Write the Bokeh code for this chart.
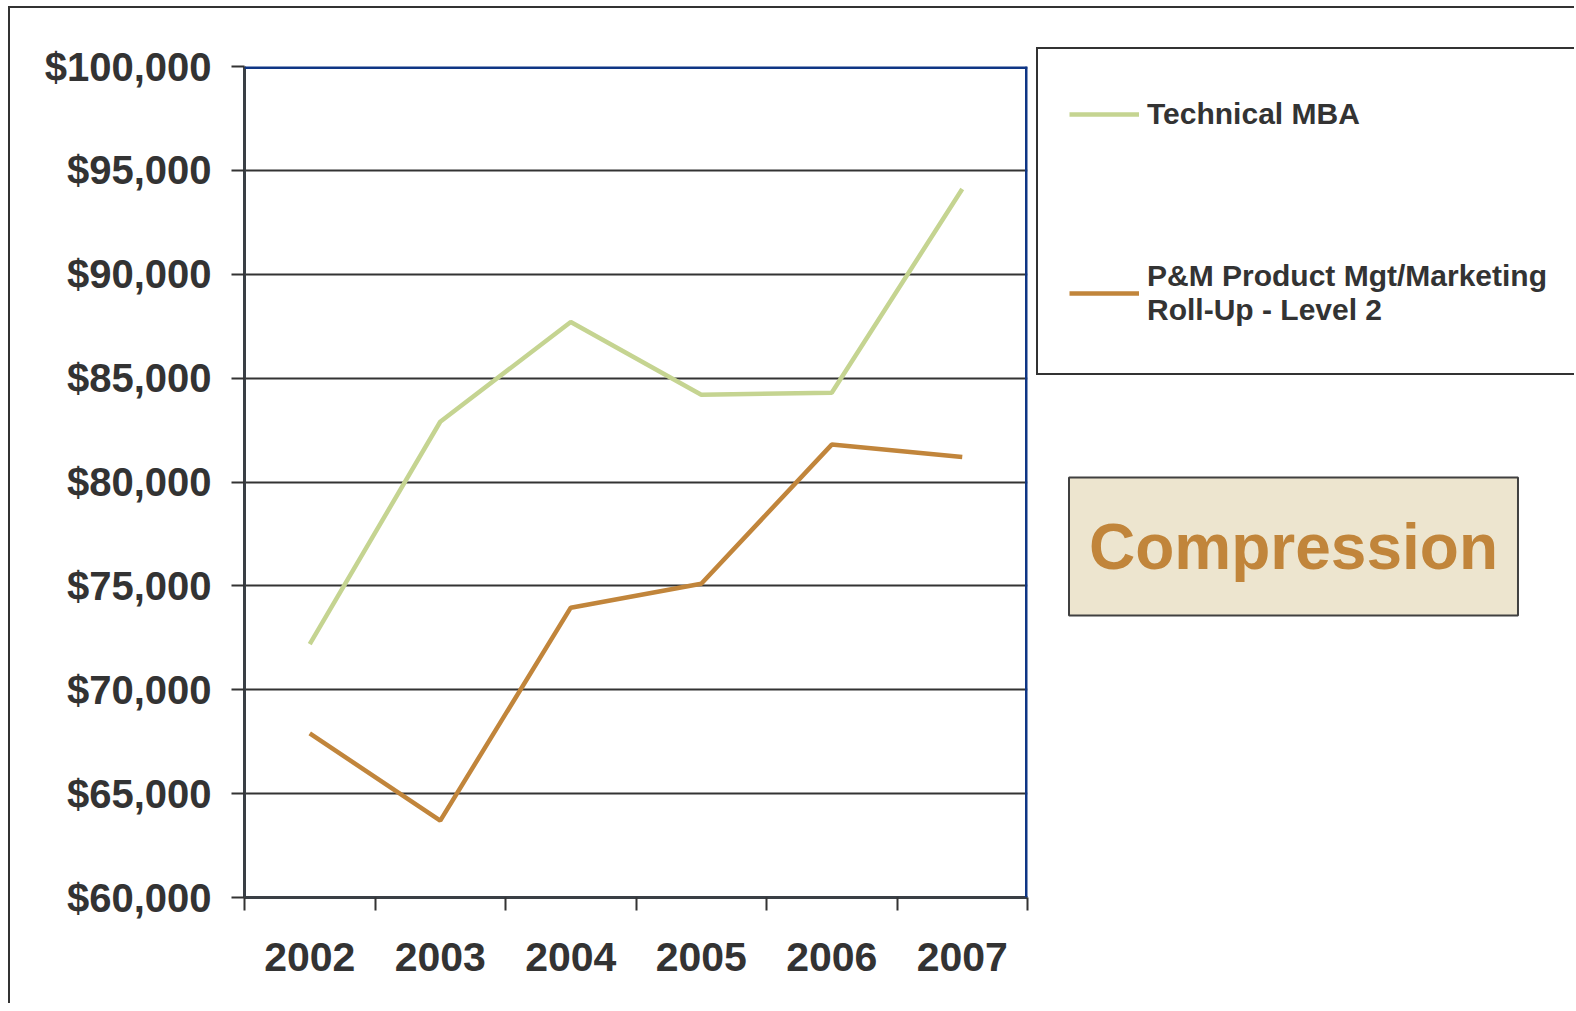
from bokeh.plotting import figure
from bokeh.layouts import row
from bokeh.models import (FixedTicker, NumeralTickFormatter, Legend, LegendItem,
                          Span, Label, Range1d)
from bokeh.embed import file_html
from bokeh.resources import INLINE

years = ["2002", "2003", "2004", "2005", "2006", "2007"]
technical_mba = [72200, 82900, 87700, 84200, 84300, 94100]
pm_product_mgt = [67900, 63700, 73950, 75100, 81800, 81200]
series_names = ["Technical MBA", "P&M Product Mgt/Marketing\nRoll-Up - Level 2"]
y_ticks = [60000, 65000, 70000, 75000, 80000, 85000, 90000, 95000, 100000]
callout_text = "Compression"

FONT = "Liberation Sans"
DARK = "#333333"
BLUE = "#0f3685"
GREEN = "#c5d491"
ORANGE = "#c1853b"
H = 995

xs = [i + 0.5 for i in range(len(years))]

p = figure(width=1020, height=H, output_backend="svg", toolbar_location=None,
           x_range=Range1d(0, len(years)), y_range=Range1d(60000, 100000),
           min_border_left=234, min_border_top=58, min_border_right=3,
           min_border_bottom=106)
p.outline_line_color = None
p.background_fill_color = "white"
p.border_fill_color = "white"

r1 = p.line(xs, technical_mba, line_color=GREEN, line_width=4.5)
r2 = p.line(xs, pm_product_mgt, line_color=ORANGE, line_width=4.5)

# y axis
yax = p.yaxis[0]
yax.ticker = FixedTicker(ticks=y_ticks, minor_ticks=[])
yax.formatter = NumeralTickFormatter(format="$0,0")
yax.major_label_text_font = FONT
yax.major_label_text_font_style = "bold"
yax.major_label_text_font_size = "40px"
yax.major_label_text_color = DARK
yax.major_label_standoff = 20
yax.axis_line_color = "#3a3f45"
yax.axis_line_width = 3
yax.major_tick_line_color = DARK
yax.major_tick_line_width = 2
yax.major_tick_out = 13
yax.major_tick_in = 0
yax.minor_tick_line_color = None

# x axis
xax = p.xaxis[0]
xax.ticker = FixedTicker(ticks=xs, minor_ticks=list(range(len(years) + 1)))
xax.major_label_overrides = {x: y for x, y in zip(xs, years)}
xax.major_label_text_font = FONT
xax.major_label_text_font_style = "bold"
xax.major_label_text_font_size = "41px"
xax.major_label_text_color = DARK
xax.major_label_standoff = 32
xax.axis_line_color = "#3a3f45"
xax.axis_line_width = 3
xax.major_tick_line_color = None
xax.major_tick_out = 0
xax.major_tick_in = 0
xax.minor_tick_line_color = DARK
xax.minor_tick_line_width = 2
xax.minor_tick_out = 13
xax.minor_tick_in = 0

p.xgrid.grid_line_color = None
p.ygrid.ticker = FixedTicker(ticks=y_ticks)
p.ygrid.grid_line_color = DARK
p.ygrid.grid_line_width = 2

p.add_layout(Span(location=100000, dimension="width", line_color=BLUE, line_width=5))
p.add_layout(Span(location=len(years), dimension="height", line_color=BLUE, line_width=5))

# side figure holding the legend and the callout (pixel coordinates)
W2 = 544
q = figure(width=W2, height=H, output_backend="svg", toolbar_location=None,
           x_range=Range1d(0, W2), y_range=Range1d(0, H),
           x_axis_type=None, y_axis_type=None, min_border=0, title=None)
try:
    q.frame_align = False
except Exception:
    pass
q.outline_line_color = None
q.grid.grid_line_color = None
q.background_fill_color = "white"
q.border_fill_color = "white"

# legend keys: same series, outside this panel's visible range
k1 = q.line(xs, technical_mba, line_color=GREEN, line_width=4.5)
k2 = q.line(xs, pm_product_mgt, line_color=ORANGE, line_width=4.5)

legend = Legend(items=[LegendItem(label=series_names[0], renderers=[k1]),
                       LegendItem(label=series_names[1], renderers=[k2])],
                location=(6, 628))
legend.label_text_font = FONT
legend.label_text_font_style = "bold"
legend.label_text_font_size = "30px"
legend.label_text_color = DARK
legend.label_text_line_height = 1.26
legend.glyph_width = 70
legend.glyph_height = 20
legend.label_standoff = 8
legend.label_width = 400
legend.label_height = 67
legend.padding = 31
legend.spacing = 112
legend.margin = 0
legend.title = " "
legend.title_location = "below"
legend.title_text_font_size = "8px"
legend.title_standoff = 6
legend.border_line_color = DARK
legend.border_line_alpha = 1
legend.border_line_width = 2
legend.background_fill_color = "white"
legend.background_fill_alpha = 1
q.add_layout(legend)

comp = Label(x=263, y=457, text=callout_text,
             text_align="center", text_baseline="middle",
             text_font=FONT, text_font_style="bold", text_font_size="64px",
             text_color=ORANGE, background_fill_color="#ede5cf",
             border_line_color="#404040", border_line_width=2,
             padding={"left": 20, "right": 20, "top": 33, "bottom": 33})
q.add_layout(comp)

layout = row(p, q, spacing=0)
layout.styles = {"margin-left": "8px", "margin-top": "6px",
                 "border-top": "2px solid #333333", "border-left": "2px solid #333333"}

open("out.html", "w").write(file_html(layout, INLINE))
